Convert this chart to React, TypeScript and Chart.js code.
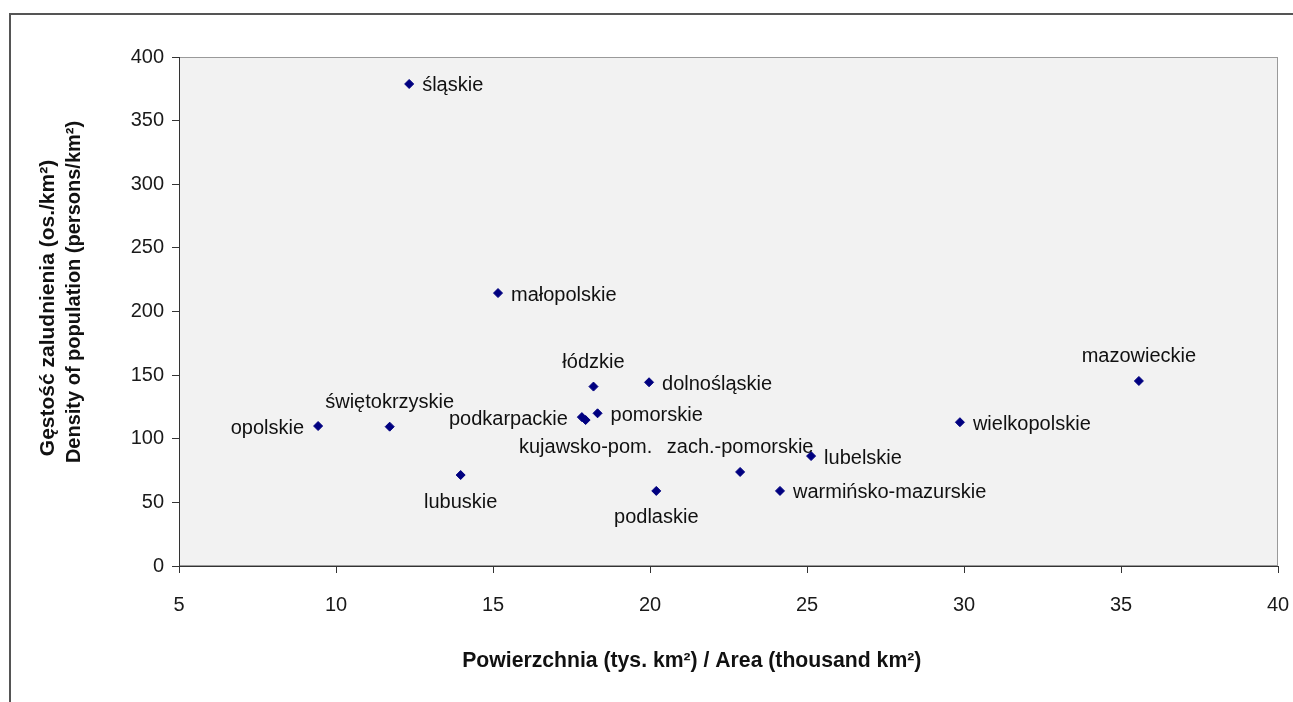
import React, { useEffect, useRef } from "react";
import { Chart, registerables } from "chart.js";

Chart.register(...registerables);

// ---- data ----
const regions = [
  "dolnośląskie",
  "kujawsko-pom.",
  "lubelskie",
  "lubuskie",
  "łódzkie",
  "małopolskie",
  "mazowieckie",
  "opolskie",
  "podkarpackie",
  "podlaskie",
  "pomorskie",
  "śląskie",
  "świętokrzyskie",
  "warmińsko-mazurskie",
  "wielkopolskie",
  "zach.-pomorskie",
];
const areas = [19.97, 17.95, 25.13, 13.97, 18.2, 15.16, 35.57, 9.43, 17.83, 20.2, 18.33, 12.33, 11.71, 24.14, 29.87, 22.87];
const densities = [144.4, 114.7, 86.4, 71.5, 141, 214.5, 145.4, 110, 117, 59, 120, 378.8, 109.5, 59, 113, 73.9];

const xTitle = "Powierzchnia (tys. km²) / Area (thousand km²)";
const yTitleLines = ["Gęstość zaludnienia (os./km²)", "Density of population (persons/km²)"];

// ---- label placement (layout only) ----
type Place = "right" | "left" | "above" | "below";
const labelPlacement: Record<string, Place> = {
  "dolnośląskie": "right",
  "kujawsko-pom.": "below",
  "lubelskie": "right",
  "lubuskie": "below",
  "łódzkie": "above",
  "małopolskie": "right",
  "mazowieckie": "above",
  "opolskie": "left",
  "podkarpackie": "left",
  "podlaskie": "below",
  "pomorskie": "right",
  "śląskie": "right",
  "świętokrzyskie": "above",
  "warmińsko-mazurskie": "right",
  "wielkopolskie": "right",
  "zach.-pomorskie": "above",
};

const FONT = "'Liberation Sans', Arial, Helvetica, sans-serif";

const framePlugin = {
  id: "frame",
  beforeDraw(chart: any) {
    const { ctx, chartArea: a, width, height } = chart;
    ctx.save();
    ctx.fillStyle = "#ffffff";
    ctx.fillRect(0, 0, width, height);
    ctx.strokeStyle = "#555555";
    ctx.lineWidth = 2;
    ctx.strokeRect(10, 14, width + 20, height + 20);
    ctx.fillStyle = "#f2f2f2";
    ctx.fillRect(a.left, a.top, a.right - a.left, a.bottom - a.top);
    ctx.strokeStyle = "#9a9a9a";
    ctx.lineWidth = 1;
    ctx.strokeRect(a.left + 0.5, a.top + 0.5, a.right - a.left - 1, a.bottom - a.top - 1);
    ctx.restore();
  },
};

const labelsPlugin = {
  id: "pointLabels",
  afterDatasetsDraw(chart: any) {
    const { ctx } = chart;
    const meta = chart.getDatasetMeta(0);
    ctx.save();
    ctx.font = `20px ${FONT}`;
    ctx.fillStyle = "#111111";
    ctx.textBaseline = "middle";
    meta.data.forEach((pt: any, i: number) => {
      const name = regions[i];
      const place = labelPlacement[name];
      let x = pt.x;
      let y = pt.y;
      if (place === "right") {
        ctx.textAlign = "left";
        x += 13;
        y += 2;
      } else if (place === "left") {
        ctx.textAlign = "right";
        x -= 14;
        y += 2;
      } else if (place === "above") {
        ctx.textAlign = "center";
        y -= 24;
      } else {
        ctx.textAlign = "center";
        y += 27;
      }
      ctx.fillText(name, x, y);
    });
    ctx.restore();
  },
};

const yTitleFontSizes = [21, 20];
const yTitleCenterOffsets = [251, 235];

const titlesPlugin = {
  id: "axisTitles",
  afterDraw(chart: any) {
    const { ctx, chartArea: a, width } = chart;
    ctx.save();
    ctx.fillStyle = "#111111";
    ctx.font = `bold 21.2px ${FONT}`;
    ctx.textAlign = "center";
    ctx.textBaseline = "middle";
    ctx.fillText(xTitle, width * 0.535, a.bottom + 95);
    yTitleLines.forEach((line, i) => {
      ctx.save();
      ctx.font = `bold ${yTitleFontSizes[i]}px ${FONT}`;
      ctx.translate(48 + i * 26, a.top + yTitleCenterOffsets[i]);
      ctx.rotate(-Math.PI / 2);
      ctx.fillText(line, 0, 0);
      ctx.restore();
    });
    ctx.restore();
  },
};

export default function App() {
  const ref = useRef<HTMLCanvasElement | null>(null);
  useEffect(() => {
    if (!ref.current) return;
    const chart = new Chart(ref.current, {
      type: "scatter",
      data: {
        datasets: [
          {
            label: "regions",
            data: areas.map((x, i) => ({ x, y: densities[i] })),
            pointStyle: "rectRot",
            pointRadius: 4.5,
            pointHoverRadius: 4.5,
            backgroundColor: "#000080",
            borderColor: "#000080",
            borderWidth: 1,
          },
        ],
      },
      options: {
        responsive: false,
        animation: false,
        events: [],
        layout: { padding: { left: 0, top: 57, right: 15, bottom: 0 } },
        plugins: {
          legend: { display: false },
          tooltip: { enabled: false },
        },
        scales: {
          x: {
            type: "linear",
            min: 5,
            max: 40,
            afterFit: (s: any) => {
              s.height = 136;
              s.paddingLeft = 0;
              s.paddingRight = 0;
            },
            ticks: {
              stepSize: 5,
              color: "#1a1a1a",
              font: { family: FONT, size: 20 },
              padding: 20,
              maxRotation: 0,
            },
            grid: {
              display: true,
              drawOnChartArea: false,
              drawTicks: true,
              tickLength: 7,
              color: "#333333",
            },
            border: { display: true, color: "#333333", width: 1 },
          },
          y: {
            type: "linear",
            min: 0,
            max: 400,
            afterFit: (s: any) => {
              s.width = 179;
            },
            ticks: {
              stepSize: 50,
              color: "#1a1a1a",
              font: { family: FONT, size: 20 },
              padding: 8,
            },
            grid: {
              display: true,
              drawOnChartArea: false,
              drawTicks: true,
              tickLength: 7,
              color: "#333333",
            },
            border: { display: true, color: "#333333", width: 1 },
          },
        },
      },
      plugins: [framePlugin, labelsPlugin, titlesPlugin],
    });
    return () => chart.destroy();
  }, []);
  return (
    <div style={{ position: "absolute", left: 0, top: 0, width: 1293, height: 702 }}>
      <canvas ref={ref} width={1293} height={702} style={{ display: "block" }} />
    </div>
  );
}
